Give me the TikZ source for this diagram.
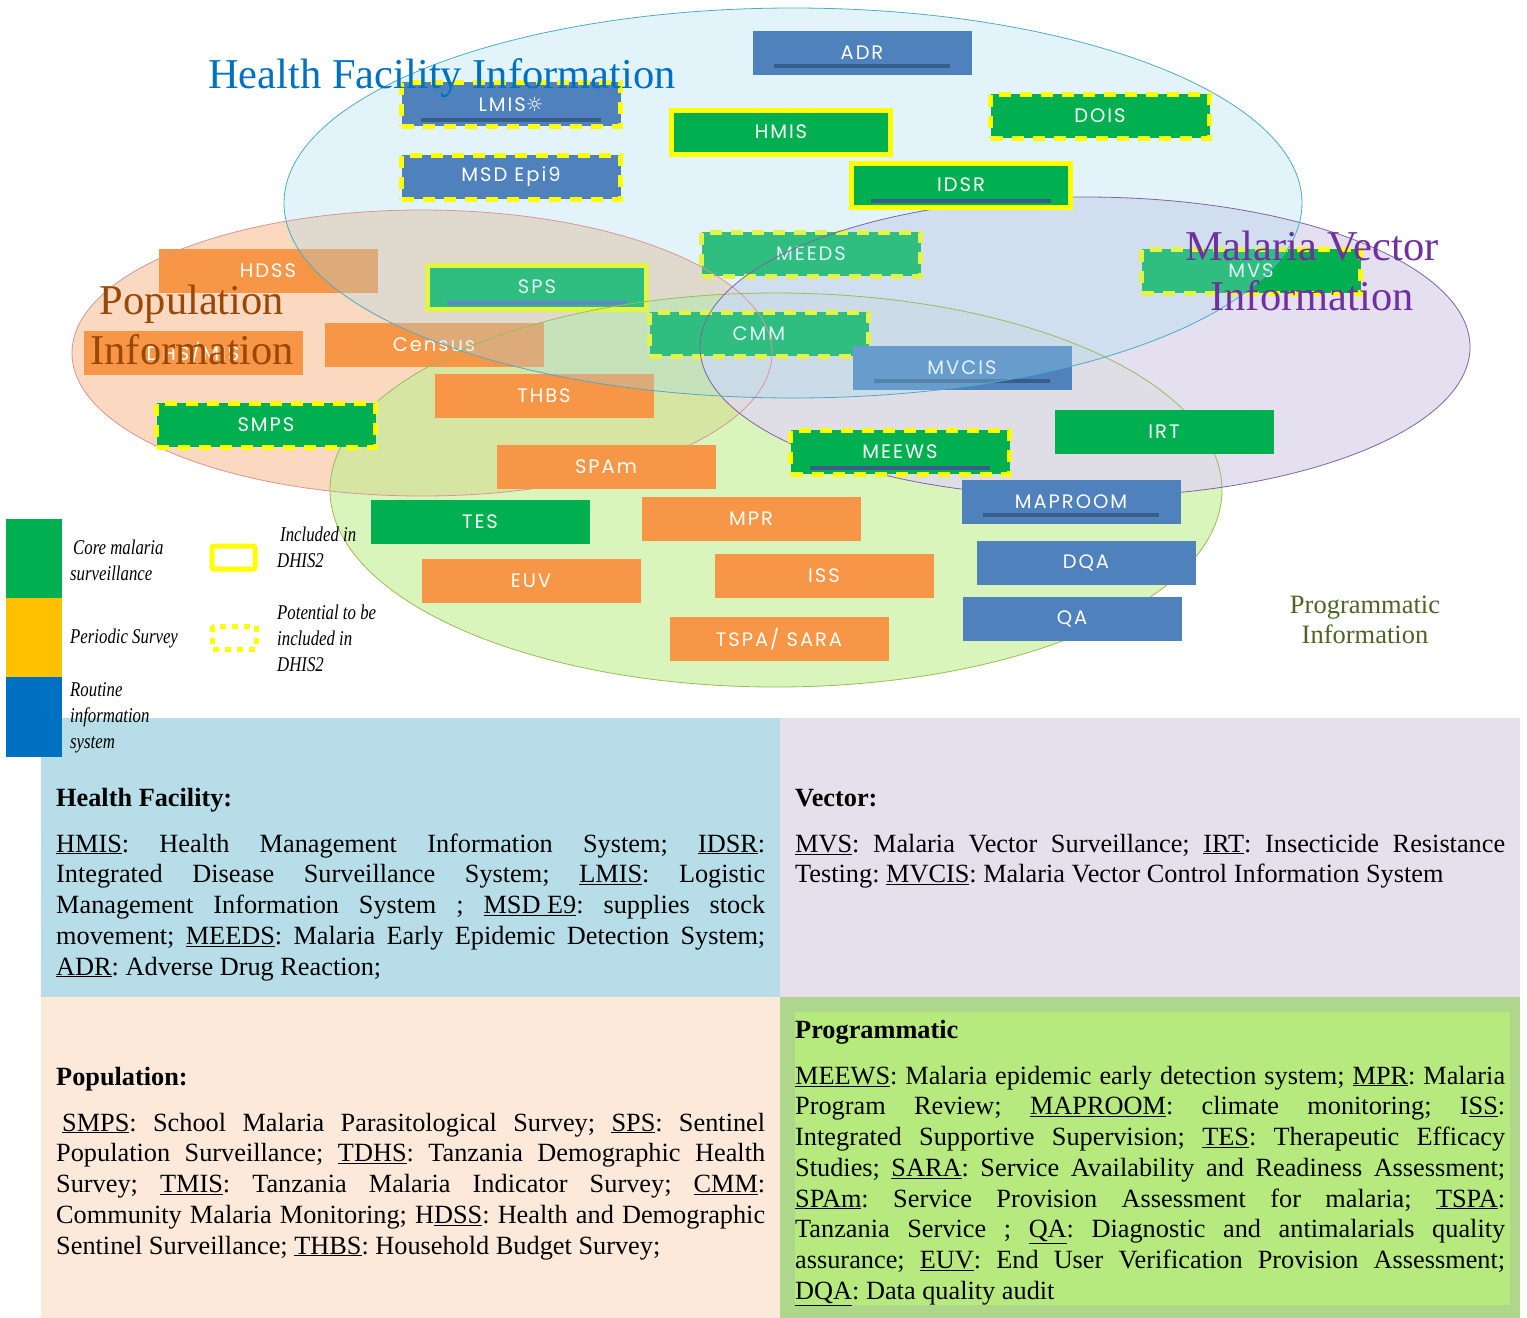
\documentclass[tikz,border=0pt]{standalone}
\usepackage{fontspec}
\setmainfont{Liberation Serif}
\newfontfamily\boxfont[LetterSpace=10]{Poppins}
\newfontfamily\symfont{DejaVu Sans}
\newfontfamily\legfont[FakeStretch=0.8]{Liberation Serif}
\definecolor{coregreen}{HTML}{00B050}
\definecolor{surveyorange}{HTML}{F79646}
\definecolor{routineblue}{HTML}{4F81BD}
\definecolor{dhisyellow}{HTML}{FFFF00}
\definecolor{bardark}{HTML}{385D8A}
\definecolor{spsbar}{HTML}{4F5FBF}
\definecolor{legamber}{HTML}{FFC000}
\definecolor{legblue}{HTML}{0070C0}
\definecolor{hfblue}{HTML}{0070C0}
\definecolor{popbrown}{HTML}{984807}
\definecolor{vecpurple}{HTML}{7030A0}
\definecolor{progolive}{HTML}{4F6228}
\definecolor{hfline}{HTML}{4BACC6}
\definecolor{popline}{HTML}{D99694}
\definecolor{progline}{HTML}{9BBB59}
\definecolor{vecline}{HTML}{8064A2}
\definecolor{popfill}{HTML}{FBD8C0}
\definecolor{progfill}{HTML}{C0EE90}
\definecolor{vecfill}{HTML}{E1DAEC}
\definecolor{hffill}{HTML}{9FDCF0}
\definecolor{hfpanel}{HTML}{B7DEE8}
\definecolor{vecpanel}{HTML}{E5E0EC}
\definecolor{poppanel}{HTML}{FDE9D9}
\definecolor{progouter}{HTML}{AFD78C}
\definecolor{proginner}{HTML}{B6EA7E}
\newcommand{\acr}[1]{\underline{#1}}
\newcommand{\panelsetup}{\frenchspacing\tolerance=10000\hyphenpenalty=10000\relax}

\begin{document}
\begin{tikzpicture}[x=1pt, y=-1pt,
sysbox/.style={minimum width=219pt, minimum height=44pt, inner sep=0pt, text=white, font=\boxfont\fontsize{19.5}{21}\selectfont},
core/.style={sysbox, fill=coregreen},
survey/.style={sysbox, fill=surveyorange},
routine/.style={sysbox, fill=routineblue},
indhis/.style={draw=dhisyellow, line width=5pt},
potential/.style={draw=dhisyellow, line width=5pt, dash pattern=on 12pt off 9pt},
underbar/.style={draw=bardark, line width=4pt},
titletext/.style={align=center, inner sep=0pt, font=\fontsize{42.5}{50}\selectfont},
legtext/.style={anchor=west, align=left, inner sep=0pt, font=\legfont\itshape\fontsize{21}{26}\selectfont},
heading/.style={anchor=base west, inner sep=0pt, font=\bfseries\fontsize{26.3}{30.75}\selectfont},
paneltext/.style={anchor=base west, inner sep=0pt, text width=709pt, align=justify, font=\fontsize{26.3}{30.75}\selectfont}]

\useasboundingbox (0,0) rectangle (1527,1318);

%%%%%%%% PANELS %%%%%%%%%%%%%
\fill[hfpanel] (41,718) rectangle (780,997);
\fill[vecpanel] (780,718) rectangle (1520,997);
\fill[poppanel] (41,997) rectangle (780,1318);
\fill[progouter] (780,997) rectangle (1520,1318);
\fill[proginner] (795,1012) rectangle (1510,1305);

%%%%%%%% ELLIPSES %%%%%%%%%%%%%
\coordinate (popc) at (422,353);
\coordinate (progc) at (776,490);
\coordinate (vecc) at (1085,347);
\coordinate (hfc) at (793,203);
\fill[popfill] (popc) ellipse [x radius=350, y radius=143];
\fill[progfill, fill opacity=.6] (progc) ellipse [x radius=446, y radius=197];
\fill[vecfill, fill opacity=.85] (vecc) ellipse [x radius=385, y radius=150];

% systems lying under the health facility ellipse
\node[survey] (hdss) at (268,271) {HDSS};
\node[survey] (census) at (434,345) {Census};
\node[survey] (thbs) at (544,396) {THBS};
\node[core, indhis] (sps) at (537,287) {SPS};
\node[core, potential] (meeds) at (811,254) {MEEDS};
\node[core, potential] (cmm) at (759,334) {CMM};
\node[routine] (mvcis) at (962,368) {MVCIS};
\node[core, potential] (mvs) at (1251,271) {MVS};
\draw[underbar, draw=spsbar] ([shift={(22,-9)}]sps.south west) -- ([shift={(-22,-9)}]sps.south east);
\draw[underbar] ([shift={(22,-9)}]mvcis.south west) -- ([shift={(-22,-9)}]mvcis.south east);

\fill[hffill, fill opacity=.3] (hfc) ellipse [x radius=509, y radius=195];

\draw[popline, thick] (popc) ellipse [x radius=350, y radius=143];
\draw[progline, thick] (progc) ellipse [x radius=446, y radius=197];
\draw[vecline, thick] (vecc) ellipse [x radius=385, y radius=150];
\draw[hfline, thick] (hfc) ellipse [x radius=509, y radius=195];

%%%%%%%% SYSTEMS %%%%%%%%%%%%%
\node[routine] (adr) at (862,53) {ADR};
\node[routine, potential] (lmis) at (511,104) {LMIS{\symfont ☼}};
\node[core, indhis] (hmis) at (781,132) {HMIS};
\node[core, potential] (dois) at (1100,116) {DOIS};
\node[routine, potential] (msd) at (511,177) {MSD Epi9};
\node[core, indhis] (idsr) at (961,185) {IDSR};
\node[survey] (dhsmis) at (193,353) {DHS/MIS};
\node[core, potential] (smps) at (266,425) {SMPS};
\node[core, potential] (meews) at (900,452) {MEEWS};
\node[core] (irt) at (1164,432) {IRT};
\node[survey] (spam) at (606,467) {SPAm};
\node[routine] (maproom) at (1071,502) {MAPROOM};
\node[core] (tes) at (480,522) {TES};
\node[survey] (mpr) at (751,519) {MPR};
\node[routine] (dqa) at (1086,563) {DQA};
\node[survey] (euv) at (531,581) {EUV};
\node[survey] (iss) at (824,576) {ISS};
\node[routine] (qa) at (1072,619) {QA};
\node[survey] (tspa) at (779,639) {TSPA/ SARA};

\foreach \s in {adr,lmis,idsr,meews,maproom}{
  \draw[underbar] ([shift={(22,-9)}]\s.south west) -- ([shift={(-22,-9)}]\s.south east);
}

%%%%%%%% TITLES %%%%%%%%%%%%%
\node[titletext, text=hfblue] (hftitle) at (442,78) {Health Facility Information};
\node[titletext, text=popbrown] (poptitle) at (192,325) {Population\\Information};
\node[titletext, text=vecpurple] (vectitle) at (1312,271) {Malaria Vector\\Information};
\node[titletext, text=progolive, font=\fontsize{26.5}{30}\selectfont] (progtitle) at (1365,620) {Programmatic\\Information};

%%%%%%%% LEGEND %%%%%%%%%%%%%
\fill[coregreen] (6,519) rectangle (62,598);
\fill[legamber] (6,598) rectangle (62,677);
\fill[legblue] (6,677) rectangle (62,757);
\node[legtext] (corelab) at (70,560) {\hspace*{3pt}Core malaria\\surveillance};
\node[legtext] (surveylab) at (70,638) {Periodic Survey};
\node[legtext] (routinelab) at (70,718) {Routine\\information\\system};
\draw[indhis, rounded corners=2pt] (212,546) rectangle (255,569);
\draw[potential, dash pattern=on 6pt off 6pt] (212,626) rectangle (256,649);
\node[legtext] (inclab) at (277,547) {\hspace*{3pt}Included in\\DHIS2};
\node[legtext] (potlab) at (277,638) {Potential to be\\included in\\DHIS2};

%%%%%%%% PANEL TEXTS %%%%%%%%%%%%%
\node[heading] (hfhead) at (56,806) {Health Facility:};
\node[paneltext] (hfbody) at (56,852) {\panelsetup
\acr{HMIS}: Health Management Information System; \acr{IDSR}:\linebreak
Integrated Disease Surveillance System; \acr{LMIS}: Logistic\linebreak
Management Information System ; \acr{MSD E9}: supplies stock\linebreak
movement; \acr{MEEDS}: Malaria Early Epidemic Detection System;\linebreak
\acr{ADR}: Adverse Drug Reaction;};

\node[heading] (vechead) at (795,806) {Vector:};
\node[paneltext, text width=710pt] (vecbody) at (795,852) {\panelsetup
\acr{MVS}: Malaria Vector Surveillance; \acr{IRT}: Insecticide Resistance\linebreak
Testing: \acr{MVCIS}: Malaria Vector Control Information System};

\node[heading] (pophead) at (56,1085) {Population:};
\node[paneltext] (popbody) at (56,1131) {\panelsetup
\hspace*{6pt}\acr{SMPS}: School Malaria Parasitological Survey; \acr{SPS}: Sentinel\linebreak
Population Surveillance; \acr{TDHS}: Tanzania Demographic Health\linebreak
Survey; \acr{TMIS}: Tanzania Malaria Indicator Survey; \acr{CMM}:\linebreak
Community Malaria Monitoring; H\acr{DSS}: Health and Demographic\linebreak
Sentinel Surveillance; \acr{THBS}: Household Budget Survey;};

\node[heading] (proghead) at (795,1038) {Programmatic};
\node[paneltext, text width=710pt] (progbody) at (795,1084) {\panelsetup
\acr{MEEWS}: Malaria epidemic early detection system; \acr{MPR}: Malaria\linebreak
Program Review; \acr{MAPROOM}: climate monitoring; I\acr{SS}:\linebreak
Integrated Supportive Supervision; \acr{TES}: Therapeutic Efficacy\linebreak
Studies; \acr{SARA}: Service Availability and Readiness Assessment;\linebreak
\acr{SPAm}: Service Provision Assessment for malaria; \acr{TSPA}:\linebreak
Tanzania Service ; \acr{QA}: Diagnostic and antimalarials quality\linebreak
assurance; \acr{EUV}: End User Verification Provision Assessment;\linebreak
\acr{DQA}: Data quality audit};
\end{tikzpicture}
\end{document}
